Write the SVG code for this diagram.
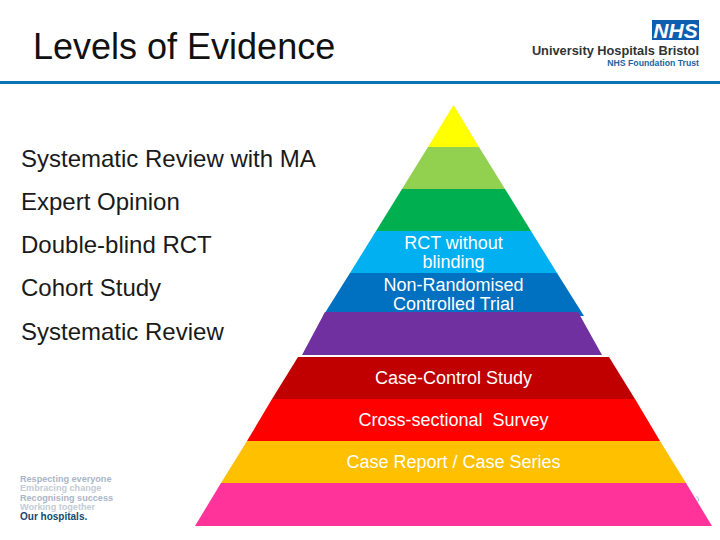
<svg xmlns="http://www.w3.org/2000/svg" width="720" height="540" viewBox="0 0 720 540">
<style>
text{font-family:"Liberation Sans",Arial,sans-serif}
.l{font-size:24px;fill:#1a1a1a}
.w{font-size:18px;fill:#fff;text-anchor:middle}
.v{font-size:9.100px;font-weight:700;fill:#a9b6c6}
.f{fill:#c3ccd6}
</style>
<rect width="720" height="540" fill="#fff"/>
<g id="header">
<text x="33" y="59" font-size="36" fill="#111">Levels of Evidence</text>
<rect x="0" y="81" width="720" height="3" fill="#0b72b5"/>
</g>
<g id="logo">
<rect x="652" y="20" width="47" height="20" fill="#0b5eb0"/>
<text x="675.500" y="37.500" font-size="21" font-weight="700" font-style="italic" fill="#fff" text-anchor="middle">NHS</text>
<text x="699" y="55" font-size="12.800" font-weight="700" fill="#333" text-anchor="end">University Hospitals Bristol</text>
<text x="699" y="66" font-size="8.700" font-weight="700" fill="#22649e" text-anchor="end">NHS Foundation Trust</text>
</g>
<g id="values">
<text class="v" x="20" y="481.500">Respecting everyone</text>
<text class="v f" x="20" y="491">Embracing change</text>
<text class="v" x="20" y="500.500">Recognising success</text>
<text class="v f" x="20" y="510">Working together</text>
<text x="20" y="520" font-size="10" font-weight="700" fill="#0f4a6e">Our hospitals.</text>
</g>
<path d="M696 496.500q3 .5 2.500 3.500t-1.500 2.500" fill="none" stroke="#a5cbe0" stroke-width="1"/>
<g id="label-systematic-review-ma"><text class="l" x="21" y="167">Systematic Review with MA</text></g>
<g id="label-expert-opinion"><text class="l" x="21" y="210">Expert Opinion</text></g>
<g id="label-double-blind"><text class="l" x="21" y="253">Double-blind RCT</text></g>
<g id="label-cohort"><text class="l" x="21" y="296">Cohort Study</text></g>
<g id="label-systematic-review"><text class="l" x="21" y="340">Systematic Review</text></g>
<g id="tier-1"><polygon points="453.500,105 479,147 428,147" fill="#ffff00"/></g>
<g id="tier-2"><polygon points="428,147 479,147 505,189 402,189" fill="#92d050"/></g>
<g id="tier-3"><polygon points="402,189 505,189 531,231 376,231" fill="#00b050"/></g>
<g id="tier-5"><polygon points="350,273 557,273 584,316 323,316" fill="#0070c0"/>
<text class="w" x="453.500" y="290.500">Non-Randomised</text><text class="w" x="453.500" y="309.500">Controlled Trial</text></g>
<g id="tier-4"><polygon points="376,231 531,231 557,273 350,273" fill="#00b0f0"/>
<text class="w" x="453.500" y="248.500">RCT without</text><text class="w" x="453.500" y="267.500">blinding</text></g>
<g id="tier-6"><polygon points="325,312 578,312 602,355 302,355" fill="#7030a0"/></g>
<g id="tier-7"><polygon points="298,357 609,357 635,399 272,399" fill="#c00000"/>
<text class="w" x="453.500" y="383.500">Case-Control Study</text></g>
<g id="tier-8"><polygon points="272,399 635,399 660,441 247,441" fill="#ff0000"/>
<text class="w" x="453.500" y="425.500" xml:space="preserve">Cross-sectional  Survey</text></g>
<g id="tier-9"><polygon points="247,441 660,441 686,483 221,483" fill="#ffc000"/>
<text class="w" x="453.500" y="467.500">Case Report / Case Series</text></g>
<g id="tier-10"><polygon points="221,483 686,483 712,526 195,526" fill="#ff3399"/></g>
<g id="connectors"/>
</svg>
